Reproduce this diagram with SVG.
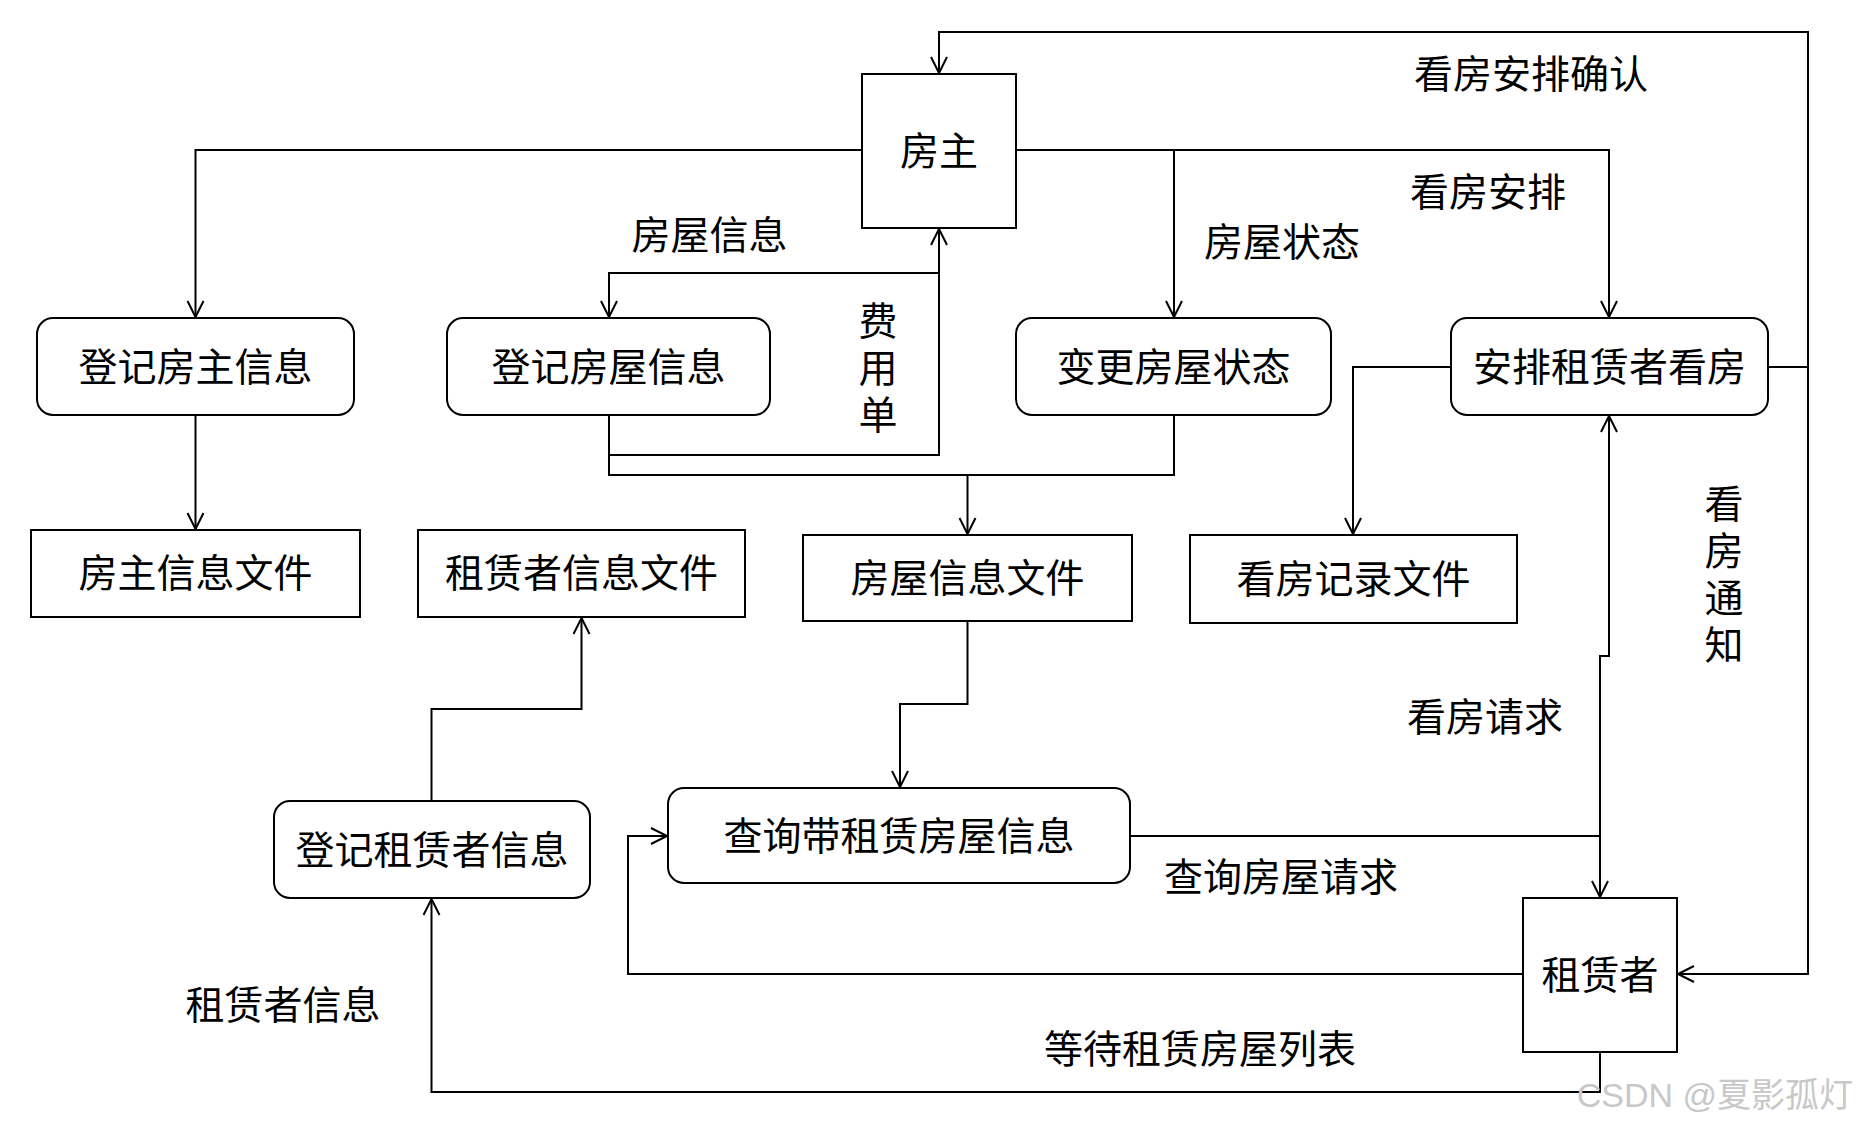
<svg xmlns="http://www.w3.org/2000/svg" width="1858" height="1128" viewBox="0 0 1858 1128">
<style>
.box{fill:#fff;stroke:#000;stroke-width:2}
.t{font-family:"Noto Sans CJK SC","Liberation Sans",sans-serif;font-size:39px;fill:#000;text-anchor:middle;dominant-baseline:central}
.v{font-family:"Noto Sans CJK SC","Liberation Sans",sans-serif;font-size:39px;fill:#000;text-anchor:middle;dominant-baseline:central;writing-mode:vertical-rl;letter-spacing:8px}
.c{fill:none;stroke:#000;stroke-width:2}
.wm{font-family:"Liberation Sans","Noto Sans CJK SC",sans-serif;font-size:34px;fill:#c8c8c8;text-anchor:end;dominant-baseline:central}
</style>
<defs>
<marker id="a" markerUnits="userSpaceOnUse" markerWidth="20" markerHeight="20" refX="17" refY="9" orient="auto">
<path d="M1,1 L17,9 L1,17" fill="none" stroke="#000" stroke-width="2"/>
</marker>
</defs>
<rect width="1858" height="1128" fill="#fff"/>
<g id="connectors">
<path class="c" d="M862,150 H195.5 V317" marker-end="url(#a)"/>
<path class="c" d="M195.5,415 V529" marker-end="url(#a)"/>
<path class="c" d="M939,228 V273 H609 V317" marker-end="url(#a)"/>
<path class="c" d="M609,415 V455 H939 V229" marker-end="url(#a)"/>
<path class="c" d="M609,415 V475 H967.5 V534" marker-end="url(#a)"/>
<path class="c" d="M1174,415 V475 H967.5"/>
<path class="c" d="M1016,150 H1174 V317" marker-end="url(#a)"/>
<path class="c" d="M1174,150 H1609 V317" marker-end="url(#a)"/>
<path class="c" d="M1451,367 H1353 V534" marker-end="url(#a)"/>
<path class="c" d="M1768,367 H1808 V32 H939 V73" marker-end="url(#a)"/>
<path class="c" d="M1808,367 V974 H1678" marker-end="url(#a)"/>
<path class="c" d="M1600,898 V656 H1609 V416" marker-end="url(#a)"/>
<path class="c" d="M1130,836 H1600 V897" marker-end="url(#a)"/>
<path class="c" d="M1523,974 H628 V836 H667" marker-end="url(#a)"/>
<path class="c" d="M967.5,621 V704 H900 V787" marker-end="url(#a)"/>
<path class="c" d="M431.5,801 V709 H581.5 V618" marker-end="url(#a)"/>
<path class="c" d="M1600,1052 V1092 H431.5 V899" marker-end="url(#a)"/>
</g>
<g id="labels">
<text class="t" x="709.5" y="232">房屋信息</text>
<text class="v" x="878" y="371">费用单</text>
<text class="t" x="1531" y="71">看房安排确认</text>
<text class="t" x="1488" y="189">看房安排</text>
<text class="t" x="1282" y="239">房屋状态</text>
<text class="v" x="1724" y="578">看房通知</text>
<text class="t" x="1485" y="714">看房请求</text>
<text class="t" x="1281" y="874">查询房屋请求</text>
<text class="t" x="1200" y="1046">等待租赁房屋列表</text>
<text class="t" x="283" y="1002">租赁者信息</text>
<text class="wm" x="1853" y="1095">CSDN @夏影孤灯</text>
</g>
<g id="n-landlord"><rect class="box" x="862" y="74" width="154" height="154"/><text class="t" x="939" y="148">房主</text></g>
<g id="n-tenant"><rect class="box" x="1523" y="898" width="154" height="154"/><text class="t" x="1600" y="972">租赁者</text></g>
<g id="n-reg-landlord"><rect class="box" x="37" y="318" width="317" height="97" rx="16"/><text class="t" x="195.5" y="363.5">登记房主信息</text></g>
<g id="n-reg-house"><rect class="box" x="447" y="318" width="323" height="97" rx="16"/><text class="t" x="608.5" y="363.5">登记房屋信息</text></g>
<g id="n-change-state"><rect class="box" x="1016" y="318" width="315" height="97" rx="16"/><text class="t" x="1173.5" y="363.5">变更房屋状态</text></g>
<g id="n-arrange"><rect class="box" x="1451" y="318" width="317" height="97" rx="16"/><text class="t" x="1609.5" y="363.5">安排租赁者看房</text></g>
<g id="f-landlord"><rect class="box" x="31" y="530" width="329" height="87"/><text class="t" x="195.5" y="570">房主信息文件</text></g>
<g id="f-tenant"><rect class="box" x="418" y="530" width="327" height="87"/><text class="t" x="581.5" y="570">租赁者信息文件</text></g>
<g id="f-house"><rect class="box" x="803" y="535" width="329" height="86"/><text class="t" x="967.5" y="575">房屋信息文件</text></g>
<g id="f-view"><rect class="box" x="1190" y="535" width="327" height="88"/><text class="t" x="1353.5" y="576">看房记录文件</text></g>
<g id="n-query"><rect class="box" x="668" y="788" width="462" height="95" rx="16"/><text class="t" x="899" y="832.5">查询带租赁房屋信息</text></g>
<g id="n-reg-tenant"><rect class="box" x="274" y="801" width="316" height="97" rx="16"/><text class="t" x="432" y="846.5">登记租赁者信息</text></g>
</svg>
